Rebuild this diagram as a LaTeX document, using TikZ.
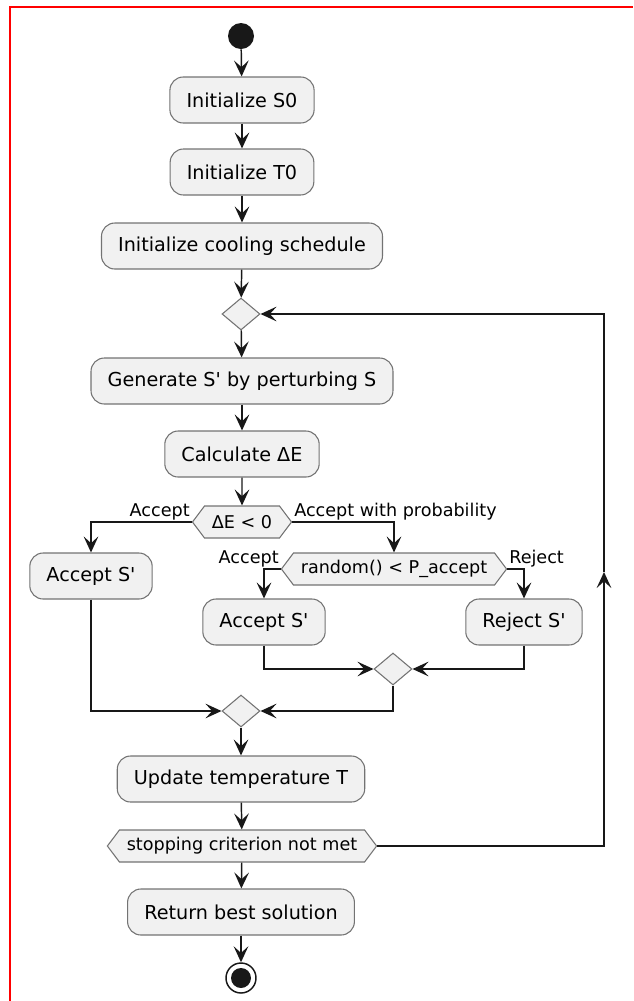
\documentclass[tikz,border=0pt]{standalone}
\usepackage{fontspec}
\setmainfont{DejaVu Sans}
\usetikzlibrary{arrows.meta,shapes.geometric,shapes.symbols}
\definecolor{boxfill}{HTML}{F1F1F1}
\definecolor{boxline}{HTML}{737373}
\definecolor{flowline}{HTML}{181818}
\newcommand\actfont{\fontsize{14.4}{17}\selectfont}
\newcommand\lblfont{\fontsize{13.2}{16}\selectfont}
\newcommand\apos{\textquotesingle}
\begin{document}
\begin{tikzpicture}[x=0.75pt,y=-0.75pt,
  actbox/.style={rounded corners=10pt, draw=boxline, line width=0.8pt, fill=boxfill,
    minimum height=34.5pt, inner xsep=12.5pt, font=\actfont},
  choice/.style={signal, signal to=west and east, signal pointer angle=106,
    draw=boxline, line width=0.8pt, fill=boxfill, minimum height=24pt,
    inner xsep=5.5pt, inner ysep=2pt, font=\lblfont},
  merge/.style={diamond, draw=boxline, line width=0.8pt, fill=boxfill,
    minimum width=28.5pt, minimum height=24pt, inner sep=0pt},
  lbl/.style={font=\lblfont, inner sep=1pt},
  flow/.style={draw=flowline, line width=1.1pt,
    -{Stealth[length=12pt,width=11pt,inset=5pt]}},
  line/.style={draw=flowline, line width=1.1pt}]
\useasboundingbox (0,0) rectangle (633,1001);
% frame
\draw[red, line width=1.5pt] (10,1001) -- (10,7) -- (633,7);

% nodes
\node (start) [circle, fill=flowline, minimum size=19.5pt, inner sep=0pt] at (241,36) {};
\node (s0)   [actbox] at (242,100) {Initialize S0};
\node (t0)   [actbox] at (242,172) {Initialize T0};
\node (cool) [actbox] at (242,246) {Initialize cooling schedule};
\node (m0)   [merge]  at (241,314) {};
\node (gen)  [actbox] at (242,381) {Generate S\apos{} by perturbing S};
\node (calc) [actbox] at (242,454) {Calculate ΔE};
\node (d1)   [choice] at (242,522) {ΔE < 0};
\node (acc1) [actbox] at (91,576)  {Accept S\apos};
\node (d2)   [choice] at (394,569) {random() < P\_accept};
\node (acc2) [actbox] at (264,622) {Accept S\apos};
\node (rej)  [actbox] at (524,622) {Reject S\apos};
\node (m1)   [merge]  at (393,669) {};
\node (m2)   [merge]  at (241,711) {};
\node (upd)  [actbox] at (241,779) {Update temperature T};
\node (d3)   [choice] at (242,846) {stopping criterion not met};
\node (ret)  [actbox] at (241,912) {Return best solution};
\node (stop) [circle, draw=flowline, line width=1.1pt, minimum size=22.5pt, inner sep=0pt] at (241,978) {};
\fill[flowline] (stop) circle (7.5pt);
\coordinate (lm) at (604,572);

% connectors
\draw[flow] (start) -- (s0);
\draw[flow] (s0) -- (t0);
\draw[flow] (t0) -- (cool);
\draw[flow] (cool) -- (m0);
\draw[flow] (m0) -- (gen);
\draw[flow] (gen) -- (calc);
\draw[flow] (calc) -- (d1);
\draw[flow] (d1.west) node[lbl, anchor=south east] {Accept} -| (acc1.north);
\draw[flow] (d1.east) node[lbl, anchor=south west] {Accept with probability} -| (d2.north);
\draw[flow] (d2.west) node[lbl, anchor=south east] {Accept} -| (acc2.north);
\draw[flow] (d2.east) node[lbl, anchor=south west] {Reject} -| (rej.north);
\draw[flow] (acc2.south) |- (m1.west);
\draw[flow] (rej.south) |- (m1.east);
\draw[flow] (acc1.south) |- (m2.west);
\draw[flow] (m1.south) |- (m2.east);
\draw[flow] (m2) -- (upd);
\draw[flow] (upd) -- (d3);
\draw[flow] (d3) -- (ret);
\draw[flow] (ret) -- (stop);
\draw[flow] (d3.east) -| (lm);
\draw[flow] (lm) |- (m0.east);
\end{tikzpicture}
\end{document}
